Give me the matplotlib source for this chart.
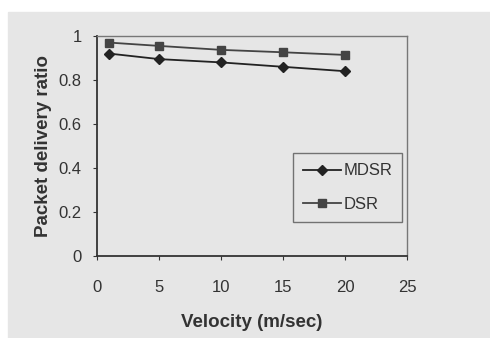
"""
Packet delivery ratio vs velocity (MDSR vs DSR)
"""
import matplotlib
matplotlib.use('Agg')
import matplotlib.pyplot as plt
from matplotlib.patches import Rectangle

velocity = [1, 5, 10, 15, 20]
mdsr = [0.92, 0.895, 0.88, 0.86, 0.84]
dsr = [0.97, 0.955, 0.937, 0.926, 0.914]
x_ticks = [0, 5, 10, 15, 20, 25]
y_ticks = [0, 0.2, 0.4, 0.6, 0.8, 1]
y_labels = ['0', '0.2', '0.4', '0.6', '0.8', '1']

plt.rcParams['font.family'] = ['Liberation Sans', 'DejaVu Sans']

bg = '#e6e6e6'
fig = plt.figure(figsize=(4.9, 3.38), dpi=100, facecolor='white')
# scanned page background with white strip at top and left
fig.patches.append(Rectangle((8 / 490, 0), 1, 1 - 12 / 338,
                             transform=fig.transFigure, color=bg, zorder=-10))

ax = fig.add_axes([97 / 490, 1 - 256 / 338, 310 / 490, 220 / 338])
ax.set_facecolor(bg)

ax.plot(velocity, mdsr, color='#222222', marker='D', markersize=5, lw=1.3, label='MDSR')
ax.plot(velocity, dsr, color='#444444', marker='s', markersize=6, lw=1.3, label='DSR')

ax.set_xlim(0, 25)
ax.set_ylim(0, 1)
ax.set_xticks(x_ticks)
ax.set_yticks(y_ticks)
ax.set_yticklabels(y_labels)
ax.tick_params(labelsize=12, colors='#333333', length=3)
ax.tick_params(axis='x', pad=14)
ax.tick_params(axis='y', pad=8)

for side in ['top', 'right']:
    ax.spines[side].set_color('#777777')
    ax.spines[side].set_linewidth(1)
for side in ['left', 'bottom']:
    ax.spines[side].set_color('#333333')
    ax.spines[side].set_linewidth(1.3)

ax.set_xlabel('Velocity (m/sec)', fontsize=13.5, fontweight='bold', color='#333333', labelpad=14)
ax.set_ylabel('Packet delivery ratio', fontsize=13.5, fontweight='bold', color='#333333', labelpad=5)

leg = ax.legend(loc='center right', bbox_to_anchor=(0.984, 0.311), fontsize=12,
                frameon=True, fancybox=False, handlelength=2.3, handletextpad=0.1,
                labelspacing=1.1, borderpad=0.6, borderaxespad=0)
leg.get_frame().set_facecolor(bg)
leg.get_frame().set_edgecolor('#555555')
for t in leg.get_texts():
    t.set_color('#333333')

fig.savefig('out.png', dpi=100, facecolor=fig.get_facecolor())
